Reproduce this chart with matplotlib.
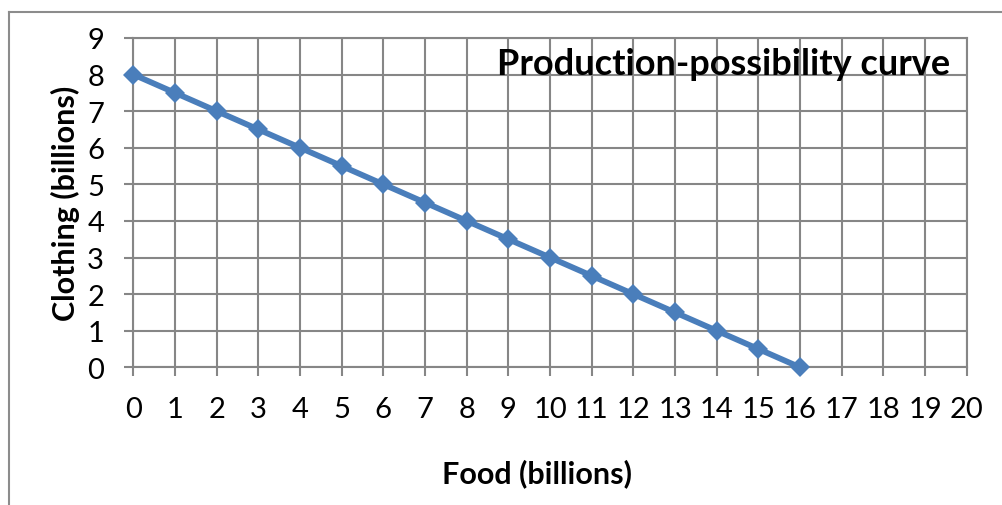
import matplotlib
matplotlib.use("Agg")
import matplotlib.pyplot as plt
from matplotlib.lines import Line2D

# Production-possibility data (billions)
food = [0, 1, 2, 3, 4, 5, 6, 7, 8, 9, 10, 11, 12, 13, 14, 15, 16]
clothing = [8, 7.5, 7, 6.5, 6, 5.5, 5, 4.5, 4, 3.5, 3, 2.5, 2, 1.5, 1, 0.5, 0]
x_ticks = list(range(0, 21))
y_ticks = list(range(0, 10))

plt.rcParams['font.family'] = ['Lato', 'DejaVu Sans']

W, H = 1002, 506
fig = plt.figure(figsize=(W / 100, H / 100), dpi=100)
fig.patch.set_facecolor("white")

# outer chart frame (top and left edges)
frame_col = "#8c8c8c"
fig.add_artist(Line2D([8.5 / W, 8.5 / W], [0, 1 - 13 / H], transform=fig.transFigure,
                      color=frame_col, lw=1.5))
fig.add_artist(Line2D([8.5 / W, 1], [1 - 13 / H, 1 - 13 / H], transform=fig.transFigure,
                      color=frame_col, lw=1.5))

left, right = 133.3 / W, 966.7 / W
bottom, top = 1 - 368.3 / H, 1 - 38.9 / H
ax = fig.add_axes([left, bottom, right - left, top - bottom])

grid_col = "#868686"
ax.set_xlim(0, 20)
ax.set_ylim(0, 9)
ax.set_xticks(x_ticks)
ax.set_yticks(y_ticks)
ax.grid(True, color=grid_col, lw=1.5)
ax.set_axisbelow(True)
for s in ax.spines.values():
    s.set_color(grid_col)
    s.set_linewidth(1.5)
ax.tick_params(axis="both", direction="out", length=6.5, width=1.5, color=grid_col,
               labelsize=21, labelcolor="black")
ax.tick_params(axis="x", pad=14)
ax.tick_params(axis="y", pad=14.5)

ax.plot(food, clothing, color="#4a7ebb", lw=4.2, marker="D", markersize=10.5,
        markeredgewidth=0, clip_on=False, zorder=3)

ax.set_xlabel("Food (billions)", fontsize=22, fontweight="bold", labelpad=26)
ax.xaxis.label.set_x(0.485)
ax.set_ylabel("Clothing (billions)", fontsize=22, fontweight="bold", labelpad=5)

ax.text(0.98, 0.89, "Production-possibility curve", transform=ax.transAxes,
        ha="right", va="baseline", fontsize=26, fontweight="bold", zorder=4)

fig.savefig("out.png", dpi=100)
